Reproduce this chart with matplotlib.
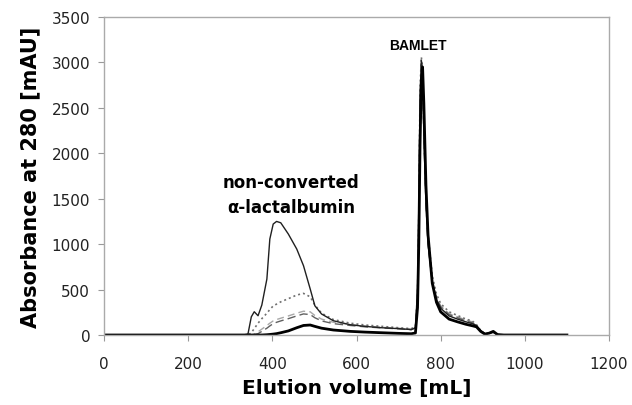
import numpy as np
import matplotlib
matplotlib.use('Agg')
import matplotlib.pyplot as plt

matplotlib.rcParams['font.family'] = 'DejaVu Sans'

# Elution volume grid (mL)
volume = [0, 330, 342, 350, 357, 366, 375, 387, 394, 402, 410, 420, 438, 458, 474,
          490, 501, 517, 545, 585, 620, 660, 700, 730, 740, 745, 748, 751, 754, 757,
          760, 765, 770, 780, 790, 800, 820, 840, 860, 875, 885, 895, 905, 915, 925,
          935, 950, 1100]

# Absorbance traces (mAU)
thin_solid = [0, 0, 10, 200, 256, 212, 330, 616, 1056, 1221, 1250, 1235, 1111, 946, 763,
              506, 322, 231, 157, 113, 95, 80, 70, 60, 80, 500, 1400, 2600, 3020, 2900,
              2200, 1450, 1000, 580, 390, 295, 210, 175, 145, 125, 105, 50, 15, 20, 30,
              5, 0, 0]
dotted = [0, 0, 0, 25, 70, 130, 180, 240, 280, 320, 340, 365, 400, 440, 458,
          420, 330, 240, 170, 130, 110, 95, 80, 70, 90, 450, 1300, 2700, 3060, 2950,
          2300, 1550, 1100, 650, 450, 345, 255, 215, 175, 155, 115, 50, 15, 20, 35,
          5, 0, 0]
light_dashed = [0, 0, 0, 0, 10, 35, 65, 105, 130, 155, 170, 185, 210, 240, 262,
                255, 215, 175, 140, 115, 100, 85, 75, 65, 85, 450, 1300, 2600, 3030, 2920,
                2250, 1500, 1050, 620, 420, 320, 235, 200, 165, 145, 108, 45, 15, 20, 30,
                5, 0, 0]
dark_dashed = [0, 0, 0, 0, 5, 15, 40, 75, 100, 125, 140, 155, 180, 210, 232,
               225, 190, 155, 125, 105, 90, 78, 68, 58, 78, 420, 1250, 2550, 3000, 2900,
               2200, 1450, 1000, 590, 400, 310, 225, 190, 155, 135, 102, 45, 15, 20, 30,
               5, 0, 0]
thick_solid = [0, 0, 0, 0, 0, 0, 0, 3, 6, 10, 15, 25, 45, 80, 105,
               110, 95, 75, 55, 40, 32, 25, 18, 14, 22, 300, 1000, 2100, 2800, 2950,
               2550, 1650, 1100, 570, 360, 255, 175, 145, 118, 102, 90, 40, 10, 20, 40,
               5, 0, 0]

x_ticks = [0, 200, 400, 600, 800, 1000, 1200]
y_ticks = [0, 500, 1000, 1500, 2000, 2500, 3000, 3500]

fig = plt.figure(figsize=(6.32, 4.06), dpi=100)
ax = fig.add_axes([0.1646, 0.1724, 0.799, 0.7833])

ax.plot(volume, light_dashed, color='#a8a8a8', linestyle=(0, (5, 3)), linewidth=1.0)
ax.plot(volume, dark_dashed, color='#606060', linestyle=(0, (6, 3)), linewidth=1.0)
ax.plot(volume, dotted, color='#707070', linestyle=(0, (1.2, 1.8)), linewidth=1.2)
ax.plot(volume, thin_solid, color='#202020', linewidth=1.0)
ax.plot(volume, thick_solid, color='#000000', linewidth=2.0)

ax.set_xlim(0, 1200)
ax.set_ylim(0, 3500)
ax.set_xticks(x_ticks)
ax.set_yticks(y_ticks)
ax.tick_params(direction='out', length=4, width=0.8, color='#999999',
               labelsize=11, labelcolor='#222222')
ax.tick_params(axis='x', pad=11)
ax.tick_params(axis='y', pad=6)
for s in ax.spines.values():
    s.set_color('#aaaaaa')
    s.set_linewidth(1.0)

ax.set_xlabel('Elution volume [mL]', fontsize=14.5, fontweight='bold', labelpad=5)
ax.set_ylabel('Absorbance at 280 [mAU]', fontsize=15, fontweight='bold', labelpad=8)

ax.text(444, 1545, 'non-converted\nα-lactalbumin', ha='center', va='center',
        fontsize=12, fontweight='bold', linespacing=1.45)
ax.text(746, 3190, 'BAMLET', ha='center', va='center', fontsize=10,
        fontweight='bold', family='Liberation Sans')

fig.savefig('out.png', dpi=100)
